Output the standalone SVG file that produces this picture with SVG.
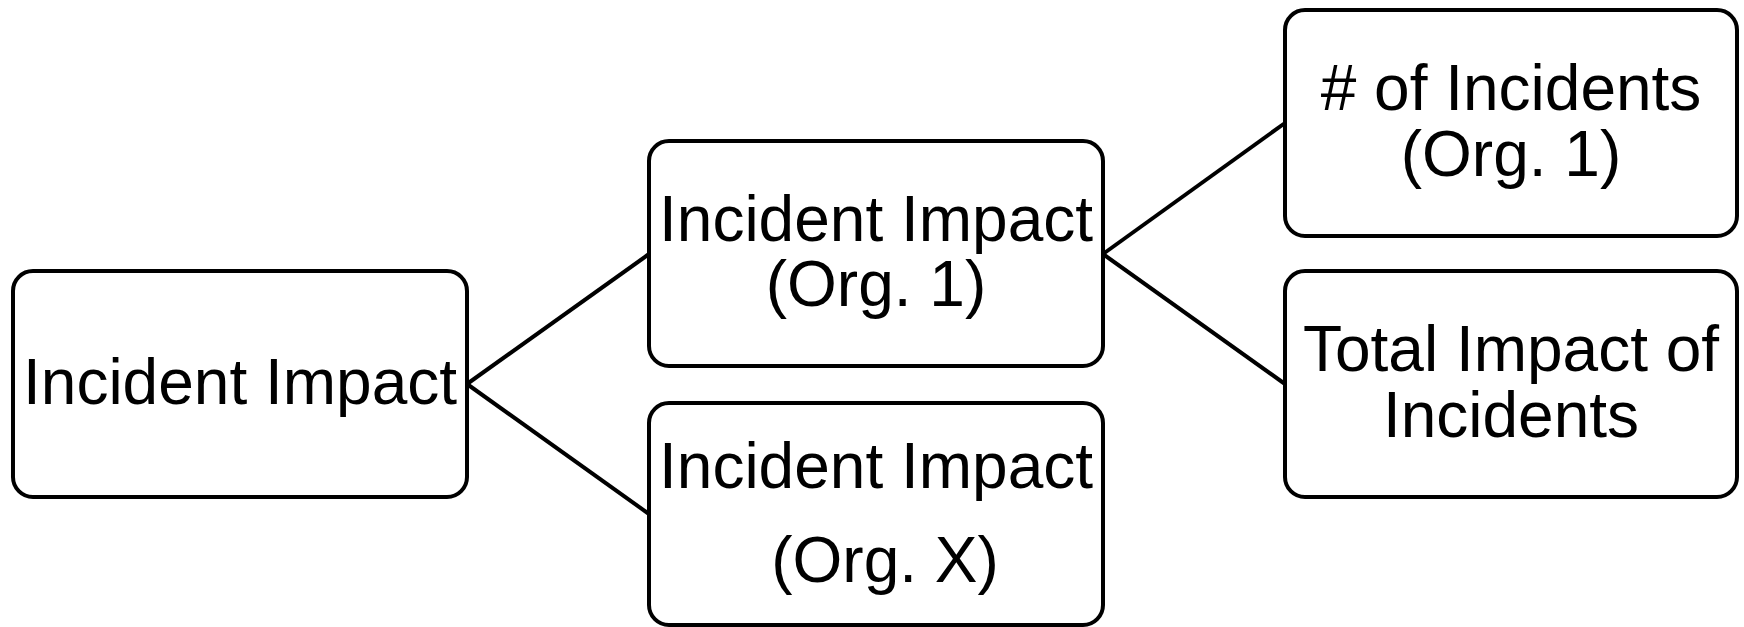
<svg xmlns="http://www.w3.org/2000/svg" width="1744" height="627" viewBox="0 0 1744 627">
<style>
.box{fill:#ffffff;stroke:#000000;stroke-width:4}
.lbl{font-family:"Liberation Sans",Arial,sans-serif;font-size:64px;fill:#000000;text-anchor:middle}
.conn{stroke:#000000;stroke-width:4;fill:none}
</style>
<rect width="1744" height="627" fill="#ffffff"/>
<g id="connectors">
<line class="conn" x1="467" y1="384" x2="649" y2="254"/>
<line class="conn" x1="467" y1="384" x2="649" y2="514"/>
<line class="conn" x1="1103" y1="254" x2="1285" y2="123"/>
<line class="conn" x1="1103" y1="254" x2="1285" y2="384"/>
</g>
<g id="node-root">
<rect class="box" x="13" y="271" width="454" height="226" rx="20" ry="20"/>
<text class="lbl" x="240" y="404">Incident Impact</text>
</g>
<g id="node-org1">
<rect class="box" x="649" y="141" width="454" height="225" rx="20" ry="20"/>
<text class="lbl" x="876" y="241">Incident Impact</text>
<text class="lbl" x="876" y="306">(Org. 1)</text>
</g>
<g id="node-orgx">
<rect class="box" x="649" y="403" width="454" height="222" rx="20" ry="20"/>
<text class="lbl" x="876" y="488">Incident Impact</text>
<text class="lbl" x="885" y="582">(Org. X)</text>
</g>
<g id="node-count">
<rect class="box" x="1285" y="10" width="452" height="226" rx="20" ry="20"/>
<text class="lbl" x="1511" y="110"># of Incidents</text>
<text class="lbl" x="1511" y="176">(Org. 1)</text>
</g>
<g id="node-total">
<rect class="box" x="1285" y="271" width="452" height="226" rx="20" ry="20"/>
<text class="lbl" x="1511" y="371">Total Impact of</text>
<text class="lbl" x="1511" y="437">Incidents</text>
</g>
</svg>
